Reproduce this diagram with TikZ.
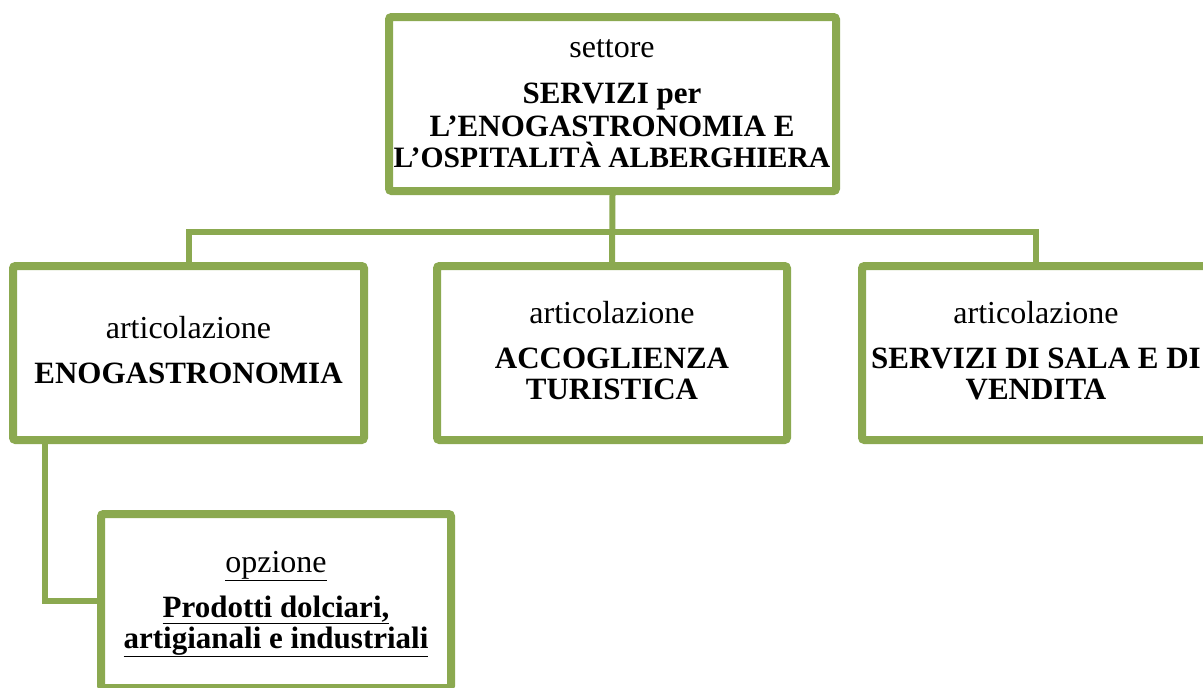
\documentclass[tikz,border=0pt]{standalone}
\usepackage{fontspec}
\setmainfont{Liberation Serif}
\usetikzlibrary{shadows}
\definecolor{boxgreen}{RGB}{139,169,80}
\tikzset{
  box/.style={draw=boxgreen, line width=8pt, fill=white, rounded corners=2.5pt,
    inner sep=0pt, drop shadow={shadow xshift=2.5pt, shadow yshift=-3pt, opacity=0.3}},
  conn/.style={draw=boxgreen, line width=6pt},
  reg/.style={anchor=base, inner sep=0pt, font=\fontsize{32}{36}\selectfont},
  bld/.style={anchor=base, inner sep=0pt, font=\fontsize{31}{35}\selectfont\bfseries},
}
\begin{document}
\begin{tikzpicture}[x=1pt, y=-1pt]
\useasboundingbox (0,0) rectangle (1203,688);
\fill[white] (0,0) rectangle (1203,688);
\coordinate (J) at (612,232);
\node[box, minimum width=447pt, minimum height=174pt] (T) at (612.5,104) {};
\node[box, minimum width=351pt, minimum height=174pt] (L) at (188.5,353) {};
\node[box, minimum width=350pt, minimum height=174pt] (M) at (612,353) {};
\node[box, minimum width=348pt, minimum height=174pt] (R) at (1036,353) {};
\node[box, minimum width=350pt, minimum height=174pt] (O) at (276,601) {};
\draw[conn] (T.south) -- (M.north);
\draw[conn] (L.north) |- (R.north |- J) -- (R.north);
\draw[conn] (L.south west) ++(36,0) |- (O.west);
% texts
\node[reg] (t1) at (612,57) {settore};
\node[bld] (t2) at (612,103) {SERVIZI per};
\node[bld] (t3) at (612,136) {L’ENOGASTRONOMIA E};
\node[bld, font=\fontsize{29.6}{34}\selectfont\bfseries] (t4) at (612,167) {L’OSPITALITÀ ALBERGHIERA};
\node[reg] (l1) at (188.5,338) {articolazione};
\node[bld] (l2) at (188.5,383) {ENOGASTRONOMIA};
\node[reg] (m1) at (612,323) {articolazione};
\node[bld] (m2) at (612,368) {ACCOGLIENZA};
\node[bld] (m3) at (612,399) {TURISTICA};
\node[reg] (r1) at (1036,323) {articolazione};
\node[bld] (r2) at (1036,368) {SERVIZI DI SALA E DI};
\node[bld] (r3) at (1036,399) {VENDITA};
\node[reg] (o1) at (276,572) {\underline{opzione}};
\node[bld] (o2) at (276,617) {\underline{Prodotti dolciari,}};
\node[bld] (o3) at (276,648) {\underline{artigianali e industriali}};
\end{tikzpicture}
\end{document}
